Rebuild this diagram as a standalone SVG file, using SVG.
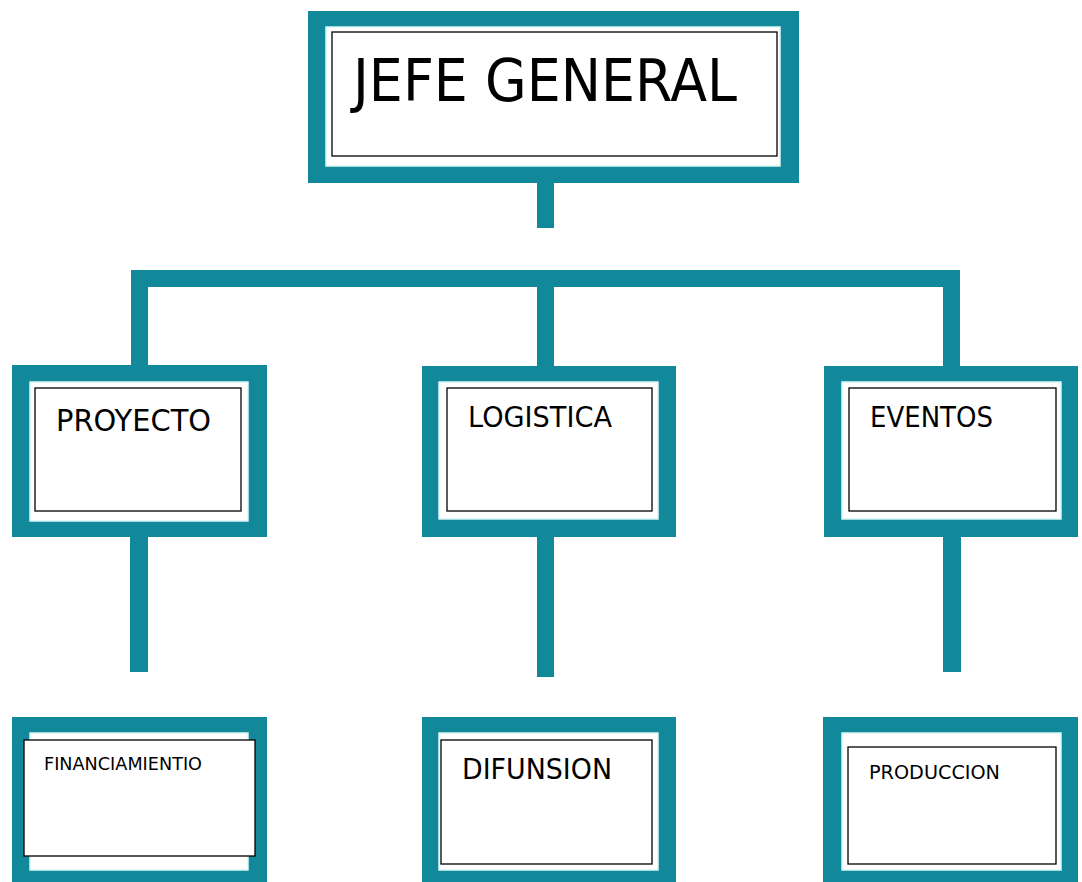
<svg xmlns="http://www.w3.org/2000/svg" width="1082" height="882" viewBox="0 0 1082 882">
<style>
.frame{fill:#12899a}
.gap{fill:#ffffff;stroke:#d9f6f8;stroke-width:1.5}
.box{fill:#ffffff;stroke:#000000;stroke-width:1.3}
.bar{fill:#12899a}
text{font-family:"DejaVu Sans","Liberation Sans",sans-serif;fill:#000000}
</style>
<rect width="1082" height="882" fill="#ffffff"/>
<g id="connectors">
<rect class="bar" x="537" y="180" width="17" height="48"/>
<rect class="bar" x="131" y="270" width="829" height="17"/>
<rect class="bar" x="131" y="270" width="17" height="100"/>
<rect class="bar" x="537" y="270" width="17" height="100"/>
<rect class="bar" x="943" y="270" width="17" height="100"/>
<rect class="bar" x="130" y="530" width="18" height="142"/>
<rect class="bar" x="537" y="530" width="17" height="147"/>
<rect class="bar" x="943" y="530" width="18" height="142"/>
</g>
<g id="jefe">
<rect class="frame" x="308" y="11" width="491" height="172"/>
<rect class="gap" x="326" y="27" width="454" height="139"/>
<rect class="box" x="332" y="32" width="445" height="124"/>
<text x="353" y="101" font-size="59" textLength="384" lengthAdjust="spacingAndGlyphs">JEFE GENERAL</text>
</g>
<g id="proyecto">
<rect class="frame" x="12" y="365" width="255" height="172"/>
<rect class="gap" x="30" y="382" width="218" height="139"/>
<rect class="box" x="35" y="388" width="206" height="123"/>
<text x="56" y="431" font-size="30" textLength="155" lengthAdjust="spacingAndGlyphs">PROYECTO</text>
</g>
<g id="logistica">
<rect class="frame" x="422" y="366" width="254" height="171"/>
<rect class="gap" x="439" y="382" width="219" height="137"/>
<rect class="box" x="447" y="388" width="205" height="123"/>
<text x="468" y="427" font-size="29" textLength="144" lengthAdjust="spacingAndGlyphs">LOGISTICA</text>
</g>
<g id="eventos">
<rect class="frame" x="824" y="366" width="254" height="171"/>
<rect class="gap" x="842" y="382" width="219" height="137"/>
<rect class="box" x="849" y="388" width="207" height="123"/>
<text x="870" y="427" font-size="29" textLength="123" lengthAdjust="spacingAndGlyphs">EVENTOS</text>
</g>
<g id="financiamiento">
<rect class="frame" x="12" y="717" width="255" height="175"/>
<rect class="gap" x="30" y="733" width="218" height="137"/>
<rect class="box" x="24" y="740" width="231" height="116"/>
<text x="44" y="770" font-size="18" textLength="158" lengthAdjust="spacingAndGlyphs">FINANCIAMIENTIO</text>
</g>
<g id="difusion">
<rect class="frame" x="422" y="717" width="254" height="175"/>
<rect class="gap" x="439" y="733" width="219" height="137"/>
<rect class="box" x="441" y="740" width="211" height="124"/>
<text x="462" y="779" font-size="29" textLength="150" lengthAdjust="spacingAndGlyphs">DIFUNSION</text>
</g>
<g id="produccion">
<rect class="frame" x="823" y="717" width="255" height="175"/>
<rect class="gap" x="842" y="733" width="219" height="137"/>
<rect class="box" x="848" y="747" width="208" height="117"/>
<text x="869" y="779" font-size="20" textLength="131" lengthAdjust="spacingAndGlyphs">PRODUCCION</text>
</g>
</svg>
